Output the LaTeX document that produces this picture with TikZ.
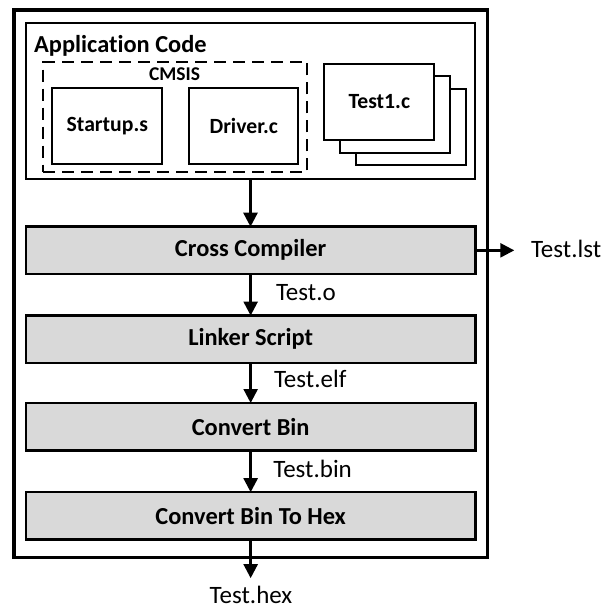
\documentclass[tikz,border=0pt]{standalone}
\usepackage{fontspec}
\setmainfont{Carlito}[Ligatures=NoCommon]
\usetikzlibrary{arrows.meta}
\definecolor{boxgray}{HTML}{D9D9D9}
\tikzset{
  plainbox/.style={draw, line width=2pt, fill=white, inner sep=0pt, outer sep=0pt,
    minimum width=110pt, minimum height=76.3pt, font=\bfseries\fontsize{21.7}{24}\selectfont},
  stagebox/.style={draw, line width=2.5pt, fill=boxgray, inner sep=0pt, outer sep=0pt,
    minimum width=449.3pt, minimum height=47.3pt, font=\bfseries\fontsize{24.4}{28}\selectfont},
  flowarrow/.style={line width=2.5pt, -{Triangle[length=14pt,width=14pt]}},
  lbl/.style={inner sep=0pt, outer sep=0pt, font=\fontsize{25}{29}\selectfont},
}
\begin{document}
\begin{tikzpicture}[x=1pt,y=-1pt]
\useasboundingbox (0,0) rectangle (616,608);
% outer frame
\node (outer) [draw, line width=3.2pt, inner sep=0pt, outer sep=0pt,
  minimum width=473.5pt, minimum height=547.7pt] at (250.75,283.85) {};
% application code box
\node (app) [draw, line width=2.3pt, inner sep=0pt, outer sep=0pt,
  minimum width=449pt, minimum height=156.6pt] at (250.5,101) {};
\node (apptitle) [anchor=base west, inner sep=0pt, font=\bfseries\fontsize{24.4}{28}\selectfont]
  at (34,52) {Application Code};
% CMSIS dashed group
\node (cmsis) [draw, line width=2.2pt, dash pattern=on 12pt off 7pt, inner sep=0pt, outer sep=0pt,
  minimum width=264pt, minimum height=110.3pt] at (175.3,117.15) {};
\node (cmsistitle) [anchor=base, inner sep=0pt, font=\bfseries\fontsize{19.5}{22}\selectfont]
  at (174.5,80) {CMSIS};
\node (startup) [plainbox] at (107.3,126.15) {Startup.s};
\node (driver) [plainbox, minimum width=109pt] at (243.8,126.15) {Driver.c};
% Test1.c stack
\node (testback) [plainbox] at (410.5,126.8) {};
\node (testmid) [plainbox] at (394.9,114.4) {};
\node (testfront) [plainbox] at (379.3,102) {Test1.c};
% stages
\node (cc) [stagebox] at (250.65,250.35) {Cross Compiler};
\node (ls) [stagebox] at (250.65,339.2) {Linker Script};
\node (cb) [stagebox] at (250.65,426.65) {Convert Bin};
\node (cbh) [stagebox] at (250.65,515.85) {Convert Bin To Hex};
% labels
\node (lsto) [lbl, anchor=base west] at (276,300) {Test.o};
\node (lelf) [lbl, anchor=base west] at (274,387) {Test.elf};
\node (lbin) [lbl, anchor=base west] at (273.3,477.3) {Test.bin};
\node (llst) [lbl, anchor=base west] at (531,257.3) {Test.lst};
\node (lhex) [lbl, anchor=base] at (251,603) {Test.hex};
\coordinate (lstend) at (514.3,250.35);
% arrows
\draw[flowarrow] (app.south) -- (app.south |- cc.north);
\draw[flowarrow] (cc.south) -- (ls.north);
\draw[flowarrow] (ls.south) -- (cb.north);
\draw[flowarrow] (cb.south) -- (cbh.north);
\draw[flowarrow, shorten >=7.5pt] (cbh.south) -- (cbh.south |- lhex.north);
\draw[flowarrow] (cc.east) -- (lstend);
\end{tikzpicture}
\end{document}
